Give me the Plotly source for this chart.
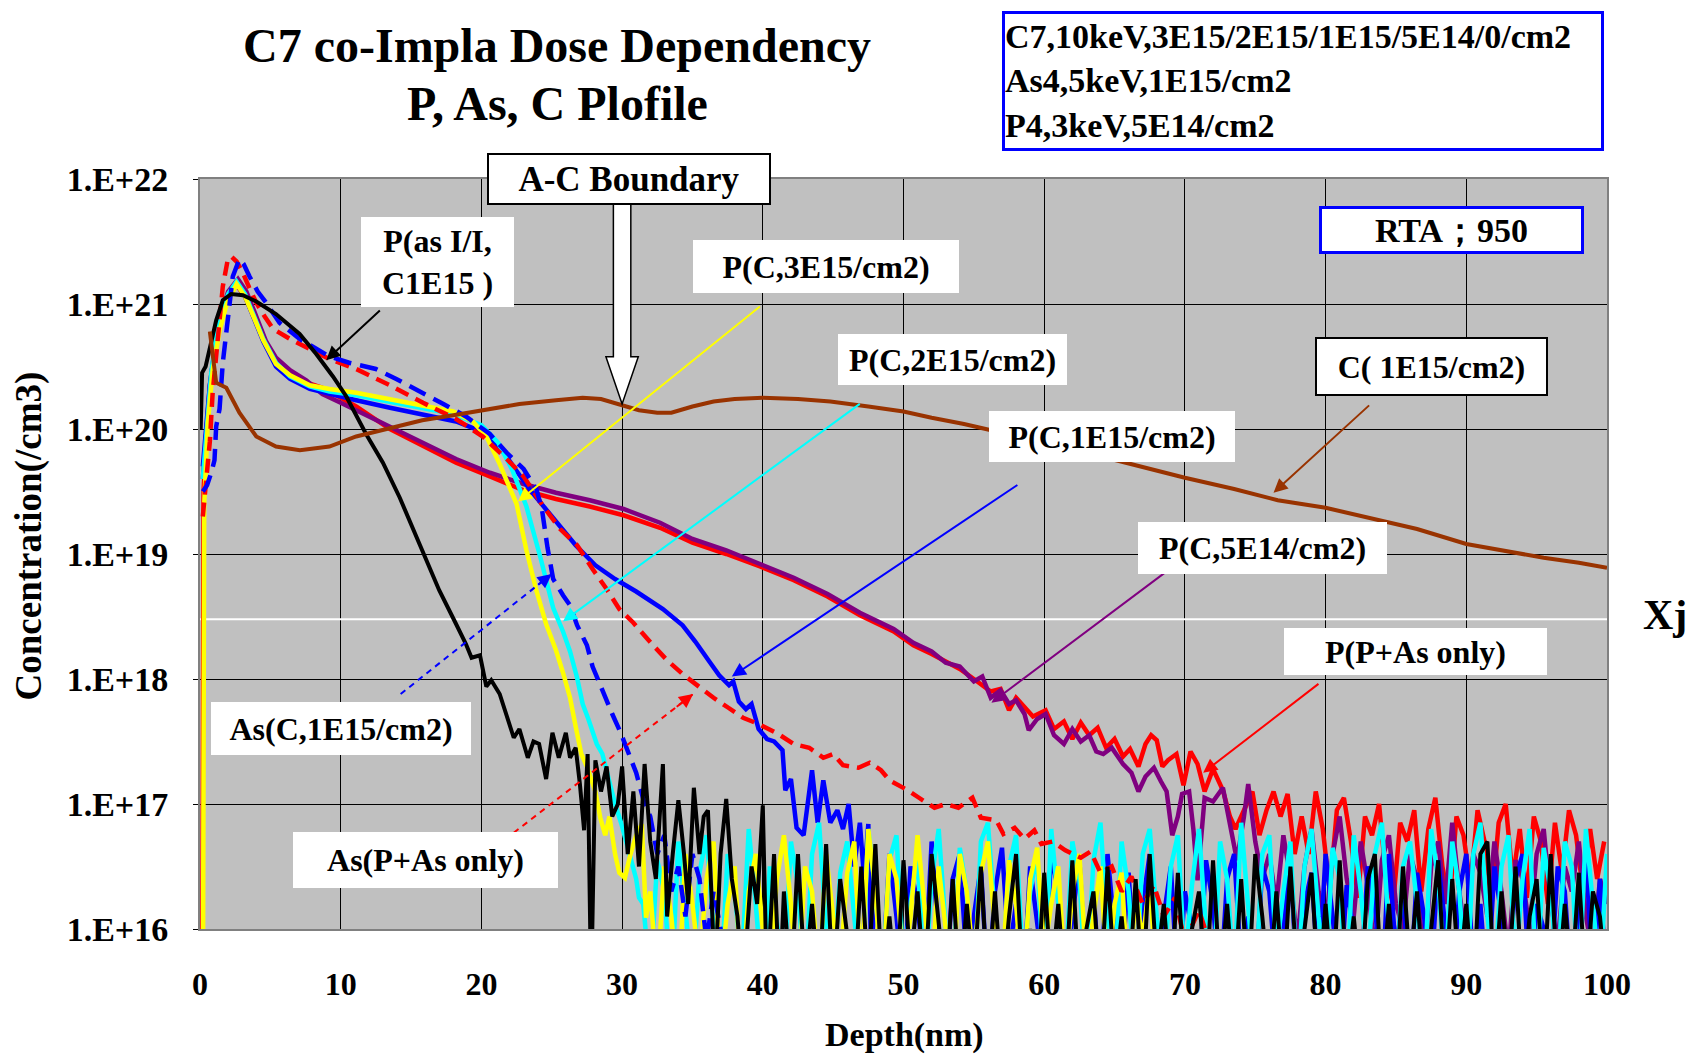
import plotly.graph_objects as go

FONT = "Liberation Serif"

# ---------------- data: depth (nm) and log10(concentration /cm3) ----------------
STEP = 0.5  # depth step of the noisy SIMS tails (nm)

black_x = [0.05, 0.15, 0.4, 0.68, 1.15, 1.62, 2.22, 3.05, 4.0, 5.4, 7.08, 8.26, 9.45, 10.4, 11.8, 13.0,
           14.2, 15.6, 17.0, 18.2, 18.9, 19.3, 19.9, 20.35, 20.7, 21.3, 21.8, 22.3, 22.7, 23.3, 23.7, 24.1,
           24.6, 25.05, 25.5, 26.0, 26.3, 26.7, 27.0, 27.3, 27.55, 27.8, 28.1, 28.5, 28.9, 29.3, 29.7, 30.0,
           30.4, 30.8, 31.2, 31.6, 32.0, 32.4, 32.9, 33.2, 33.6, 34.0, 34.4, 34.7, 35.1, 35.5, 35.8, 36.1,
           36.6, 37.0, 37.4, 37.8, 38.2, 38.6, 39.2, 39.6, 40.0, 40.3, 40.8, 41.2]
black_log = [20.0, 20.45, 20.5, 20.63, 20.87, 21.03, 21.08, 21.07, 21.02, 20.92, 20.76, 20.6, 20.42, 20.26,
             19.96, 19.73, 19.45, 19.08, 18.71, 18.44, 18.28, 18.17, 18.19, 17.94, 17.99, 17.88, 17.7, 17.53,
             17.6, 17.37, 17.5, 17.48, 17.2, 17.57, 17.37, 17.57, 17.37, 17.45, 17.16, 16.79, 17.4, 15.5,
             17.35, 17.1, 17.3, 16.9, 17.0, 17.3, 16.6, 17.1, 16.5, 17.32, 16.7, 16.4, 17.32, 16.1, 16.6,
             17.03, 16.6, 16.2, 17.13, 16.6, 16.9, 16.95, 15.6, 16.6, 17.04, 16.4, 16.1, 15.5, 16.5, 16.2,
             16.99, 15.5, 16.6, 15.5]
black_tail_start = 41.5
black_tail_log = [16.3, 15.5, 16.6, 15.6, 16.2, 15.5, 16.68, 15.5, 16.4, 16.0,
                  15.5, 16.5, 15.6, 16.68, 15.5, 16.1, 15.5, 16.55, 15.7, 16.3,
                  15.5, 16.6, 16.0, 15.5, 16.4, 15.5, 16.2, 15.6, 16.5, 15.5,
                  16.3, 15.5, 16.1, 16.6, 15.5, 16.0, 15.5, 16.45, 15.6, 16.2,
                  15.5, 16.55, 15.5, 16.0, 16.3, 15.5, 16.5, 15.6, 16.1, 15.5,
                  16.4, 15.5, 16.6, 15.7, 16.2, 15.5, 16.45, 15.5, 16.0, 16.3,
                  15.5, 16.55, 15.6, 16.2, 15.5, 16.4, 15.5, 16.6, 16.1, 15.5,
                  16.3, 15.5, 16.5, 15.6, 16.0, 16.45, 15.5, 16.2, 15.5, 16.55,
                  15.6, 16.1, 15.5, 16.4, 16.6, 15.5, 16.2, 15.5, 16.5, 15.7,
                  16.3, 15.5, 16.0, 16.55, 15.5, 16.4, 15.6, 16.2, 15.5, 16.6,
                  16.7, 15.5, 16.3, 15.6, 16.5, 15.5, 16.1, 16.4, 15.5, 16.6,
                  15.5, 16.2, 15.6, 16.45, 15.5, 16.3, 16.1, 15.5]

yellow_x = [0.2, 0.3, 0.55, 0.9, 1.4, 1.9, 2.6, 3.2, 3.8, 4.5, 5.4, 6.4, 7.8, 9.2, 11.1, 13.5, 15.9, 18.0,
            19.4, 20.4, 21.3, 22.0, 22.5, 23.2, 23.9, 24.6, 25.3, 25.8, 26.3, 26.7, 27.1, 27.5, 27.8, 28.1,
            28.45, 28.8, 29.1, 29.5, 29.8, 30.2, 30.6, 31.0, 31.4, 31.7]
yellow_log = [15.0, 19.4, 20.04, 20.47, 20.79, 21.0, 21.16, 21.06, 20.9, 20.71, 20.52, 20.43, 20.35, 20.32,
              20.29, 20.24, 20.19, 20.14, 20.06, 19.93, 19.72, 19.52, 19.4, 19.03, 18.71, 18.44, 18.23,
              18.05, 17.85, 17.62, 17.4, 17.3, 17.2, 17.1, 16.89, 16.75, 16.9, 16.6, 16.45, 16.41, 16.6,
              16.75, 16.84, 16.09]
yellow_tail_start = 32.0
yellow_tail_log = [16.3, 15.6, 16.5, 16.1, 15.5, 16.6, 16.2, 15.7, 16.4, 16.7,
                   15.6, 16.2, 16.5, 15.5, 16.3, 16.6, 16.0, 15.6, 16.4, 16.75,
                   16.2, 15.5, 16.5, 16.3, 15.6, 16.6, 16.1, 15.7, 16.45, 16.7,
                   15.6, 16.8, 16.3, 15.5, 16.6, 16.4, 15.7, 16.1, 16.75, 16.2,
                   15.6, 16.5, 16.0, 15.5, 16.6, 16.3, 15.7, 16.45, 16.7, 16.0,
                   15.6, 16.55, 16.2, 15.5, 16.4, 16.65, 15.8, 16.2, 16.5, 15.6,
                   16.3, 16.6, 15.7, 16.1, 16.5, 15.6, 16.2, 16.45, 15.5, 16.3,
                   15.9, 16.4, 15.5]

cyan_x = [0.2, 0.3, 0.5, 0.8, 1.1, 1.5, 2.0, 2.6, 3.2, 3.8, 4.5, 5.4, 6.4, 7.8, 9.2, 11.1, 13.5, 15.9,
          18.0, 20.0, 21.2, 22.2, 23.2, 24.2, 25.1, 25.8, 26.3, 26.8, 27.2, 27.6, 28.2, 28.6, 29.1, 29.5,
          29.95, 30.3, 30.6, 31.0, 31.2]
cyan_log = [19.6, 19.75, 20.05, 20.45, 20.7, 20.92, 21.08, 21.18, 21.08, 20.92, 20.72, 20.53, 20.42,
            20.34, 20.3, 20.27, 20.22, 20.17, 20.12, 20.03, 19.89, 19.67, 19.38, 18.97, 18.57, 18.38,
            18.22, 18.01, 17.8, 17.68, 17.48, 17.4, 17.16, 17.0, 16.84, 16.7, 16.57, 16.4, 16.25]
cyan_tail_start = 31.5
cyan_tail_log = [16.2, 15.6, 16.55, 16.3, 15.5, 16.7, 16.1, 15.6, 16.45, 16.75,
                 16.0, 15.5, 16.6, 16.3, 15.7, 16.8, 16.2, 15.5, 16.5, 16.1,
                 15.6, 16.7, 16.35, 15.5, 16.6, 16.85, 16.0, 15.6, 16.45, 16.7,
                 16.1, 15.5, 16.8, 16.3, 15.6, 16.55, 16.75, 15.7, 16.2, 16.6,
                 15.5, 16.4, 16.8, 16.0, 15.6, 16.65, 16.3, 15.5, 16.7, 16.85,
                 16.1, 15.6, 16.5, 16.75, 15.7, 16.3, 16.6, 15.5, 16.8, 16.2,
                 15.6, 16.7, 16.4, 15.5, 16.55, 16.85, 16.0, 15.6, 16.7, 16.3,
                 15.5, 16.6, 16.8, 16.1, 15.6, 16.5, 16.75, 15.7, 16.35, 16.8,
                 16.0, 15.5, 16.7, 16.4, 15.6, 16.85, 16.2, 15.5, 16.6, 16.75,
                 15.8, 16.3, 16.7, 15.5, 16.5, 16.8, 16.1, 15.6, 16.65, 16.4,
                 15.5, 16.75, 16.3, 15.7, 16.6, 16.85, 16.0, 15.6, 16.5, 16.7,
                 16.2, 15.5, 16.8, 16.4, 15.6, 16.7, 16.3, 15.5, 16.6, 16.85,
                 16.1, 15.6, 16.5, 16.75, 15.7, 16.4, 16.8, 15.5, 16.65, 16.3,
                 15.6, 16.7, 16.5, 15.5, 16.8, 16.2, 15.6, 16.6]

blue_x = [0.2, 0.4, 0.7, 1.0, 1.5, 2.0, 2.6, 3.2, 3.8, 4.5, 5.4, 6.4, 7.8, 9.2, 11.1, 13.5, 15.9, 18.2,
          20.0, 21.6, 23.4, 24.9, 26.7, 28.1, 29.5, 31.0, 32.9, 34.3, 35.2, 36.2, 36.9, 37.6, 37.9, 38.3,
          38.8, 39.2, 39.7, 40.3, 40.8, 41.4, 41.6, 42.0, 42.4, 42.9, 43.5, 43.9, 44.3, 44.8, 45.3, 45.7,
          46.1, 46.5, 46.9, 47.2, 47.5, 47.7]
blue_log = [19.7, 20.0, 20.35, 20.6, 20.9, 21.07, 21.16, 21.06, 20.9, 20.7, 20.5, 20.4, 20.32, 20.28,
            20.23, 20.17, 20.11, 20.06, 19.98, 19.81, 19.52, 19.31, 19.07, 18.91, 18.8, 18.7, 18.56, 18.43,
            18.3, 18.14, 18.03, 17.95, 17.98, 17.82, 17.76, 17.8, 17.6, 17.52, 17.5, 17.43, 17.11, 17.2,
            16.81, 16.75, 17.27, 16.85, 17.19, 16.85, 16.95, 16.8, 17.0, 16.5, 16.85, 16.4, 16.84, 15.8]
blue_tail_start = 48.0
blue_tail_log = [16.3, 15.6, 16.6, 16.1, 15.5, 16.5, 16.2, 15.6, 16.7, 15.9,
                 15.5, 16.4, 16.6, 15.7, 16.1, 16.5, 15.5, 16.3, 16.65, 15.8,
                 16.2, 15.5, 16.5, 16.0, 15.6, 16.6, 16.3, 15.5, 16.1, 16.55,
                 15.6, 16.3, 15.5, 16.6, 16.0, 15.7, 16.45, 15.5, 16.2, 16.6,
                 15.6, 16.1, 16.5, 15.5, 16.3, 16.0, 15.6, 16.55, 16.2, 15.5,
                 16.4, 16.6, 15.7, 16.1, 15.5, 16.5, 16.3, 15.6, 16.0, 16.55,
                 15.5, 16.2, 16.45, 15.6, 16.6, 16.1, 15.5, 16.35, 16.0, 15.6,
                 16.5, 16.2, 15.5, 16.6, 15.8, 16.3, 15.5, 16.45, 16.1, 15.6,
                 16.55, 16.0, 15.5, 16.3, 16.6, 15.7, 16.2, 15.5, 16.5, 16.1,
                 15.6, 16.4, 16.6, 15.5, 16.2, 16.0, 15.6, 16.5, 16.3, 15.5,
                 16.1, 16.6, 15.6, 16.4, 15.5]

purple_x = [0.2, 0.4, 0.7, 1.0, 1.5, 2.0, 2.7, 3.3, 4.0, 4.7, 5.4, 6.4, 7.55, 8.7, 10.0, 11.1, 13.5, 15.85,
            18.2, 20.6, 23.0, 25.3, 27.7, 30.1, 32.7, 35.0, 37.4, 39.8, 42.2, 44.6, 46.9, 49.3, 50.7, 52.0,
            53.0, 54.0, 55.0, 55.6, 56.2, 56.9, 57.5, 58.0, 58.6, 58.9, 59.5, 60.1, 60.7, 61.4, 62.0, 62.6,
            63.2, 63.7, 64.2, 64.8, 65.6, 66.2, 66.7, 67.2, 67.8, 68.3, 68.7, 69.1, 69.5, 69.8, 70.3, 70.6,
            70.9, 71.4, 72.0, 72.7, 73.2, 73.7, 74.2, 74.5, 75.0, 75.5]
purple_log = [19.6, 19.95, 20.35, 20.6, 20.93, 21.1, 21.2, 21.1, 20.9, 20.7, 20.57, 20.47, 20.39, 20.28,
              20.21, 20.15, 20.02, 19.89, 19.76, 19.65, 19.56, 19.49, 19.43, 19.36, 19.25, 19.12, 19.03,
              18.92, 18.81, 18.68, 18.53, 18.4, 18.29, 18.22, 18.13, 18.1, 17.98, 18.02, 17.85, 17.91, 17.8,
              17.83, 17.72, 17.59, 17.68, 17.72, 17.55, 17.48, 17.6, 17.5, 17.55, 17.42, 17.4, 17.45, 17.32,
              17.25, 17.1, 17.22, 17.29, 17.18, 17.1, 16.75, 16.9, 17.08, 17.1, 16.8, 16.39, 17.05, 17.02,
              17.13, 16.85, 16.55, 16.9, 17.16, 16.7, 16.4]
purple_tail_start = 76.0
purple_tail_log = [16.6, 16.2, 16.75, 16.4, 15.9, 16.5, 16.8, 16.3, 16.0, 16.6,
                   16.9, 16.4, 16.1, 16.7, 16.35, 15.8, 16.55, 16.75, 16.2, 16.0,
                   16.6, 16.4, 15.7, 16.5, 16.7, 16.2, 16.85, 16.3, 15.9, 16.6,
                   16.45, 16.1, 16.7, 16.3, 15.8, 16.55, 16.4, 16.0, 16.6, 16.8,
                   16.2, 15.9, 16.5, 16.3, 16.7, 16.1, 15.8, 16.4, 16.2]

red_x = [0.15, 0.25, 0.5, 0.8, 1.1, 1.5, 2.0, 2.6, 3.2, 3.8, 4.5, 5.4, 6.4, 7.6, 8.7, 10.0, 11.1, 13.5,
         15.85, 18.2, 20.6, 23.0, 25.3, 27.7, 30.1, 32.7, 35.0, 37.4, 39.8, 42.2, 44.6, 46.9, 49.3, 50.7,
         52.0, 53.0, 54.0, 55.0, 55.6, 56.2, 56.9, 57.5, 58.0, 58.6, 59.2, 60.1, 60.7, 61.4, 62.0, 62.6,
         63.2, 63.8, 64.4, 65.0, 65.6, 66.1, 66.7, 67.2, 67.6, 68.0, 68.4, 68.8, 69.4, 69.9, 70.4, 70.9,
         71.4, 72.0, 72.7, 73.2, 73.6, 74.2, 74.8, 75.3, 75.8, 76.3, 76.8, 77.3, 77.8]
red_log = [15.0, 19.5, 20.0, 20.4, 20.68, 20.9, 21.06, 21.15, 21.06, 20.9, 20.72, 20.55, 20.45, 20.37,
           20.33, 20.25, 20.18, 20.0, 19.86, 19.73, 19.62, 19.51, 19.44, 19.38, 19.31, 19.21, 19.09, 19.0,
           18.9, 18.79, 18.66, 18.51, 18.38, 18.27, 18.2, 18.14, 18.08, 18.0, 17.95, 17.9, 17.92, 17.75,
           17.85, 17.77, 17.7, 17.75, 17.6, 17.66, 17.52, 17.65, 17.55, 17.61, 17.45, 17.52, 17.38, 17.44,
           17.3, 17.48, 17.55, 17.51, 17.3, 17.35, 17.4, 17.15, 17.42, 17.32, 17.1, 17.28, 17.11, 16.9,
           16.8, 16.95, 17.1, 16.75, 16.95, 17.1, 16.9, 17.08, 16.6]
red_tail_start = 78.3
red_tail_log = [16.9, 16.6, 17.1, 16.8, 16.3, 16.95, 17.05, 16.7, 16.25, 16.9,
                16.75, 17.0, 16.4, 16.2, 16.85, 16.7, 16.95, 16.3, 16.8, 17.05,
                16.5, 16.2, 16.9, 16.75, 16.35, 16.95, 16.7, 16.2, 16.85, 17.0,
                16.4, 16.8, 16.25, 16.9, 16.7, 16.2, 16.85, 16.45, 16.95, 16.75,
                16.3, 16.8, 16.4, 16.7]

as_red_x = [0.2, 0.35, 0.7, 0.9, 1.27, 1.62, 1.98, 2.22, 2.6, 3.05, 3.5, 4.0, 4.6, 5.2, 6.4, 7.8, 9.2, 11.1,
            13.5, 15.85, 18.2, 20.1, 21.8, 23.0, 24.4, 25.6, 26.8, 27.9, 28.9, 29.8, 30.8, 32.2, 33.2, 34.4,
            35.4, 36.5, 37.55, 38.6, 39.7, 41.1, 42.2, 43.3, 44.3, 45.0, 45.7, 46.8, 47.6, 48.4, 49.0, 50.3,
            51.1, 52.2, 53.0, 53.9, 54.9, 55.5, 56.6, 57.1, 57.9, 58.6, 59.3, 59.8, 60.6, 61.5, 62.6, 63.3,
            64.0, 64.8, 65.5, 66.2, 67.0, 67.8, 68.5, 69.3, 70.0, 71.0, 72.0]
as_red_log = [19.3, 19.5, 19.9, 20.29, 20.72, 21.14, 21.36, 21.38, 21.34, 21.25, 21.13, 21.01, 20.9, 20.8,
              20.72, 20.64, 20.56, 20.48, 20.35, 20.21, 20.08, 19.94, 19.76, 19.62, 19.38, 19.2, 19.07,
              18.88, 18.72, 18.56, 18.45, 18.27, 18.15, 18.03, 17.94, 17.85, 17.77, 17.69, 17.64, 17.56,
              17.48, 17.45, 17.37, 17.4, 17.31, 17.29, 17.33, 17.27, 17.19, 17.11, 17.05, 16.97, 17.0,
              16.97, 17.05, 16.89, 16.87, 16.76, 16.81, 16.72, 16.79, 16.68, 16.7, 16.63, 16.57, 16.62,
              16.45, 16.5, 16.3, 16.42, 16.2, 16.35, 16.1, 16.25, 15.9, 16.15, 15.8]

as_blue_x = [0.2, 0.5, 0.8, 1.03, 1.15, 1.39, 1.62, 1.98, 2.33, 2.8, 3.1, 3.52, 4.1, 4.7, 5.65, 7.08, 9.2,
             10.6, 12.5, 13.95, 15.85, 17.3, 18.9, 20.6, 21.8, 23.0, 23.9, 24.3, 24.7, 25.1, 25.8, 26.3,
             26.8, 27.5, 27.9, 28.6, 29.3, 29.9, 30.5, 31.0, 31.6, 32.0, 32.5, 33.0, 33.5, 34.0, 34.5, 35.0,
             35.5, 36.0, 36.5, 37.0, 37.5, 38.0]
as_blue_log = [19.5, 19.55, 19.65, 19.75, 20.02, 20.16, 20.53, 20.9, 21.22, 21.36, 21.32, 21.22, 21.1,
               21.01, 20.85, 20.72, 20.58, 20.53, 20.48, 20.4, 20.29, 20.2, 20.1, 19.96, 19.81, 19.68,
               19.52, 19.36, 19.05, 18.8, 18.67, 18.59, 18.43, 18.27, 18.1, 17.9, 17.72, 17.57, 17.4, 17.25,
               17.0, 16.9, 16.6, 16.75, 16.3, 16.5, 16.1, 16.6, 16.4, 15.9, 16.3, 16.0, 15.7, 15.5]

carbon_x = [0.7, 1.15, 1.87, 2.8, 4.0, 5.4, 7.1, 9.2, 11.1, 13.5, 15.8, 18.0, 20.1, 22.7, 25.3, 27.2, 28.5,
            30.0, 31.2, 32.5, 33.5, 35.0, 36.5, 38.0, 40.0, 42.5, 44.8, 47.5, 50.0, 52.0, 54.3, 57.0, 60.0,
            63.0, 66.5, 70.0, 73.5, 76.6, 80.0, 83.0, 86.5, 90.0, 93.0, 95.5, 98.0, 100.0]
carbon_log = [20.78, 20.37, 20.33, 20.13, 19.94, 19.86, 19.83, 19.86, 19.94, 20.01, 20.07, 20.11, 20.15,
              20.2, 20.23, 20.25, 20.24, 20.19, 20.15, 20.13, 20.13, 20.18, 20.22, 20.24, 20.25, 20.24,
              20.22, 20.18, 20.14, 20.09, 20.04, 19.97, 19.9, 19.81, 19.71, 19.61, 19.52, 19.43, 19.37,
              19.29, 19.2, 19.08, 19.02, 18.97, 18.93, 18.89]

xj_level = 3e18          # junction depth reference line
xticks = [0, 10, 20, 30, 40, 50, 60, 70, 80, 90, 100]
yticks = [1e16, 1e17, 1e18, 1e19, 1e20, 1e21, 1e22]
yticktext = ["1.E+16", "1.E+17", "1.E+18", "1.E+19", "1.E+20", "1.E+21", "1.E+22"]

# label arrows: (tail depth, tail log10, tip depth, tip log10)
arrow_black = (12.89, 20.96, 8.97, 20.55)
arrow_yellow = (39.9, 20.99, 22.6, 19.42)
arrow_cyan = (47.0, 20.21, 25.8, 18.46)
arrow_blue = (58.2, 19.56, 37.8, 18.02)
arrow_purple = (69.4, 18.92, 56.25, 17.81)
arrow_red = (79.6, 17.97, 71.3, 17.25)
arrow_brown = (83.2, 20.2, 76.3, 19.49)
arrow_as_blue = (14.26, 17.88, 25.0, 18.84)
arrow_as_red = (22.3, 16.77, 35.05, 17.88)
boundary_depth = 30.0


def build(x, logs, tail_start=None, tail=None):
    xs = list(x)
    ys = list(logs)
    if tail:
        xs += [tail_start + STEP * i for i in range(len(tail))]
        ys += list(tail)
    return xs, [10 ** v for v in ys]


fig = go.Figure()

# Xj reference line (white)
fig.add_trace(go.Scatter(x=[0, 100], y=[xj_level, xj_level], mode="lines",
                         line=dict(color="white", width=2), hoverinfo="skip"))

series = [
    ("P(P+As only)", red_x, red_log, red_tail_start, red_tail_log, "#FF0000", "solid", 4.5),
    ("P(C,5E14)", purple_x, purple_log, purple_tail_start, purple_tail_log, "#800080", "solid", 4.5),
    ("P(C,1E15)", blue_x, blue_log, blue_tail_start, blue_tail_log, "#0000FF", "solid", 4.5),
    ("P(C,2E15)", cyan_x, cyan_log, cyan_tail_start, cyan_tail_log, "#00FFFF", "solid", 4.5),
    ("P(C,3E15)", yellow_x, yellow_log, yellow_tail_start, yellow_tail_log, "#FFFF00", "solid", 4.5),
    ("As(P+As only)", as_red_x, as_red_log, None, None, "#FF0000", "14px,8px", 4.5),
    ("As(C,1E15)", as_blue_x, as_blue_log, None, None, "#0000FF", "18px,9px", 4.5),
    ("P(as I/I)", black_x, black_log, black_tail_start, black_tail_log, "#000000", "solid", 4),
    ("C(1E15)", carbon_x, carbon_log, None, None, "#993300", "solid", 4),
]
for name, x, lg, ts, tl, col, dash, w in series:
    xs, ys = build(x, lg, ts, tl)
    fig.add_trace(go.Scatter(x=xs, y=ys, mode="lines", name=name,
                             line=dict(color=col, width=w, dash=dash)))

annotations = []

# solid label arrows
for arr, col in [(arrow_black, "black"), (arrow_yellow, "#FFFF00"), (arrow_cyan, "#00FFFF"),
                 (arrow_blue, "#0000FF"), (arrow_purple, "#800080"), (arrow_red, "#FF0000"),
                 (arrow_brown, "#993300")]:
    tx, tl_, hx, hl = arr
    annotations.append(dict(x=hx, y=hl, ax=tx, ay=tl_, xref="x", yref="y", axref="x", ayref="y",
                            text="", showarrow=True, arrowhead=2, arrowsize=1.4,
                            arrowwidth=2, arrowcolor=col, standoff=0))

# dashed label arrows
for arr, col in [(arrow_as_blue, "#0000FF"), (arrow_as_red, "#FF0000")]:
    tx, tl_, hx, hl = arr
    fig.add_trace(go.Scatter(x=[tx, hx], y=[10 ** tl_, 10 ** hl], mode="lines",
                             line=dict(color=col, width=2, dash="6px,5px"), hoverinfo="skip"))
    annotations.append(dict(x=hx, y=hl, ax=hx + 0.1 * (tx - hx), ay=hl + 0.1 * (tl_ - hl),
                            xref="x", yref="y", axref="x", ayref="y", text="", showarrow=True,
                            arrowhead=2, arrowsize=1.4, arrowwidth=2, arrowcolor=col, standoff=0))


def box(text, x, y, w, h, size=32, border=None, bw=0, align="center"):
    return dict(text=text, x=x, y=y, xref="paper", yref="paper", xanchor="center", yanchor="middle",
                width=w, height=h, showarrow=False, bgcolor="white",
                bordercolor=border if border else "rgba(0,0,0,0)", borderwidth=bw, borderpad=0,
                align=align, font=dict(family=FONT, size=size, color="black"))


annotations += [
    box("<b>A-C Boundary</b>", 0.3047, 1.0, 280, 48, size=35, border="black", bw=2),
    box("<b>P(as I/I,<br>C1E15 )</b>", 0.1685, 0.8893, 153, 90, size=32),
    box("<b>P(C,3E15/cm2)</b>", 0.4447, 0.8833, 266, 53, size=32),
    box("<b>P(C,2E15/cm2)</b>", 0.5347, 0.7593, 229, 51, size=32),
    box("<b>P(C,1E15/cm2)</b>", 0.6481, 0.6567, 246, 51, size=32),
    box("<b>P(C,5E14/cm2)</b>", 0.7551, 0.508, 249, 52, size=32),
    box("<b>P(P+As only)</b>", 0.8638, 0.37, 263, 47, size=32),
    box("<b>C( 1E15/cm2)</b>", 0.8752, 0.75, 229, 55, size=32, border="black", bw=2),
    box("<b>As(C,1E15/cm2)</b>", 0.0999, 0.2673, 260, 53, size=32),
    box("<b>As(P+As only)</b>", 0.16, 0.092, 265, 56, size=32),
    box("<b>C7,10keV,3E15/2E15/1E15/5E14/0/cm2<br>As4,5keV,1E15/cm2<br>P4,3keV,5E14/cm2</b>",
        0.7839, 1.1305, 596, 134, size=34, border="#0000FF", bw=3, align="left"),
    box("<b>RTA；950</b>", 0.8894, 0.932, 259, 42, size=34, border="#0000FF", bw=3),
    dict(text="<b>Xj</b>", x=1.0412, y=0.4187, xref="paper", yref="paper", xanchor="center",
         yanchor="middle", showarrow=False, font=dict(family=FONT, size=42, color="black")),
    dict(text="<b>C7 co-Impla Dose Dependency</b>", x=0.254, y=1.178, xref="paper", yref="paper",
         xanchor="center", yanchor="middle", showarrow=False,
         font=dict(family=FONT, size=48, color="black")),
    dict(text="<b>P, As, C Plofile</b>", x=0.254, y=1.101, xref="paper", yref="paper",
         xanchor="center", yanchor="middle", showarrow=False,
         font=dict(family=FONT, size=48, color="black")),
    dict(text="<b>Depth(nm)</b>", x=0.501, y=-0.141, xref="paper", yref="paper",
         xanchor="center", yanchor="middle", showarrow=False,
         font=dict(family=FONT, size=34, color="black")),
    dict(text="<b>Concentration(/cm3)</b>", x=-0.1212, y=0.524, xref="paper", yref="paper",
         xanchor="center", yanchor="middle", textangle=-90, showarrow=False,
         font=dict(family=FONT, size=37, color="black")),
]

# big hollow boundary arrow (depth on x, paper on y)
bx = boundary_depth
path = (f"M {bx - 0.62},0.967 L {bx + 0.62},0.967 L {bx + 0.62},0.763 L {bx + 1.15},0.763 "
        f"L {bx},0.700 L {bx - 1.15},0.763 L {bx - 0.62},0.763 Z")
shapes = [dict(type="path", path=path, xref="x", yref="paper", fillcolor="white",
               line=dict(color="black", width=1.5), layer="above")]

# page body has an 8px margin: figure is 16px smaller and margins shifted by 8px
fig.update_layout(
    width=1683, height=1046,
    margin=dict(l=192, r=84, t=171, b=125),
    paper_bgcolor="white", plot_bgcolor="#C0C0C0",
    showlegend=False,
    annotations=annotations,
    shapes=shapes,
    xaxis=dict(range=[0, 100], tickvals=xticks, ticktext=[f"<b>{v}</b>" for v in xticks],
               tickfont=dict(family=FONT, size=32, color="black"), showgrid=True,
               gridcolor="black", gridwidth=1, zeroline=False, showline=True, mirror=True,
               linecolor="#808080", linewidth=2, ticks="", ticklabelstandoff=26),
    yaxis=dict(type="log", range=[16, 22], tickvals=yticks,
               ticktext=[f"<b>{t}</b>" for t in yticktext],
               tickfont=dict(family=FONT, size=34, color="black"), showgrid=True,
               gridcolor="black", gridwidth=1, zeroline=False, showline=True, mirror=True,
               linecolor="#808080", linewidth=2, ticks="outside", ticklen=5, tickcolor="black",
               ticklabelstandoff=18),
)

fig.write_html("out.html")
